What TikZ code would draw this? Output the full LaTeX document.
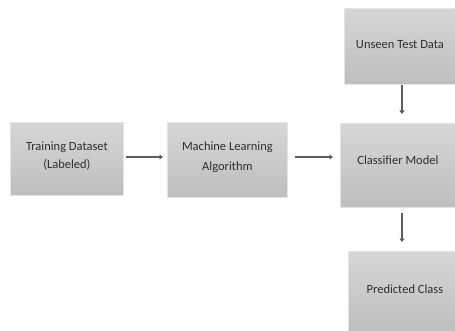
\documentclass[tikz,border=0pt]{standalone}
\usepackage{fontspec}
\setmainfont{Carlito}
\usetikzlibrary{arrows.meta}
\definecolor{boxtop}{HTML}{D6D6D6}
\definecolor{boxbot}{HTML}{BEBEBE}
\definecolor{boxedge}{HTML}{E4E4E4}
\definecolor{txt}{HTML}{2E2E2E}
\definecolor{arr}{HTML}{5E5E5E}
\tikzset{
  stagebox/.style={rectangle, top color=boxtop, bottom color=boxbot, draw=boxedge,
    line width=0.8pt, inner sep=0pt, anchor=north west},
  stagetext/.style={text=txt, align=center, font=\fontsize{12.5}{18}\selectfont,
    inner sep=0pt, yshift=3pt},
  flow/.style={draw=arr, line width=2.2pt, -{Triangle[length=3.5pt,width=5pt]}}
}
\begin{document}
\begin{tikzpicture}[x=1pt,y=-1pt]
\useasboundingbox (0,0) rectangle (455,331);
% boxes placed by top-left corner, sizes in pt; captions sit a little above centre
\node[stagebox, minimum width=113pt, minimum height=73pt] (train) at (10,122) {};
\node[stagetext] (trainlbl) at (train.center) {Training Dataset\\(Labeled)};
\node[stagebox, minimum width=120pt, minimum height=75pt] (mla) at (167,122) {};
\node[stagetext, font=\fontsize{12.5}{20}\selectfont] (mlalbl) at (mla.center) {Machine Learning\\Algorithm};
\node[stagebox, minimum width=111pt, minimum height=76pt] (unseen) at (344,8) {};
\node[stagetext, yshift=-1pt] (unseenlbl) at (unseen.center) {Unseen Test Data};
\node[stagebox, minimum width=115pt, minimum height=84pt] (clf) at (340,123) {};
\node[stagetext, yshift=2pt] (clflbl) at (clf.center) {Classifier Model};
\node[stagebox, minimum width=107pt, minimum height=80pt] (pred) at (348,251) {};
\node[stagetext, xshift=3pt, yshift=-1pt] (predlbl) at (pred.center) {Predicted Class};
% connectors
\draw[flow] ([xshift=2pt]train.east |- 0,157) -- ([xshift=-4pt]mla.west |- 0,157);
\draw[flow] ([xshift=7pt]mla.east |- 0,157) -- ([xshift=-7pt]clf.west |- 0,157);
\draw[flow] (unseen.south -| 402,0) -- ([yshift=9pt]clf.north -| 402,0);
\draw[flow] ([yshift=-5pt]clf.south -| 402,0) -- ([yshift=9pt]pred.north -| 402,0);
\end{tikzpicture}
\end{document}
